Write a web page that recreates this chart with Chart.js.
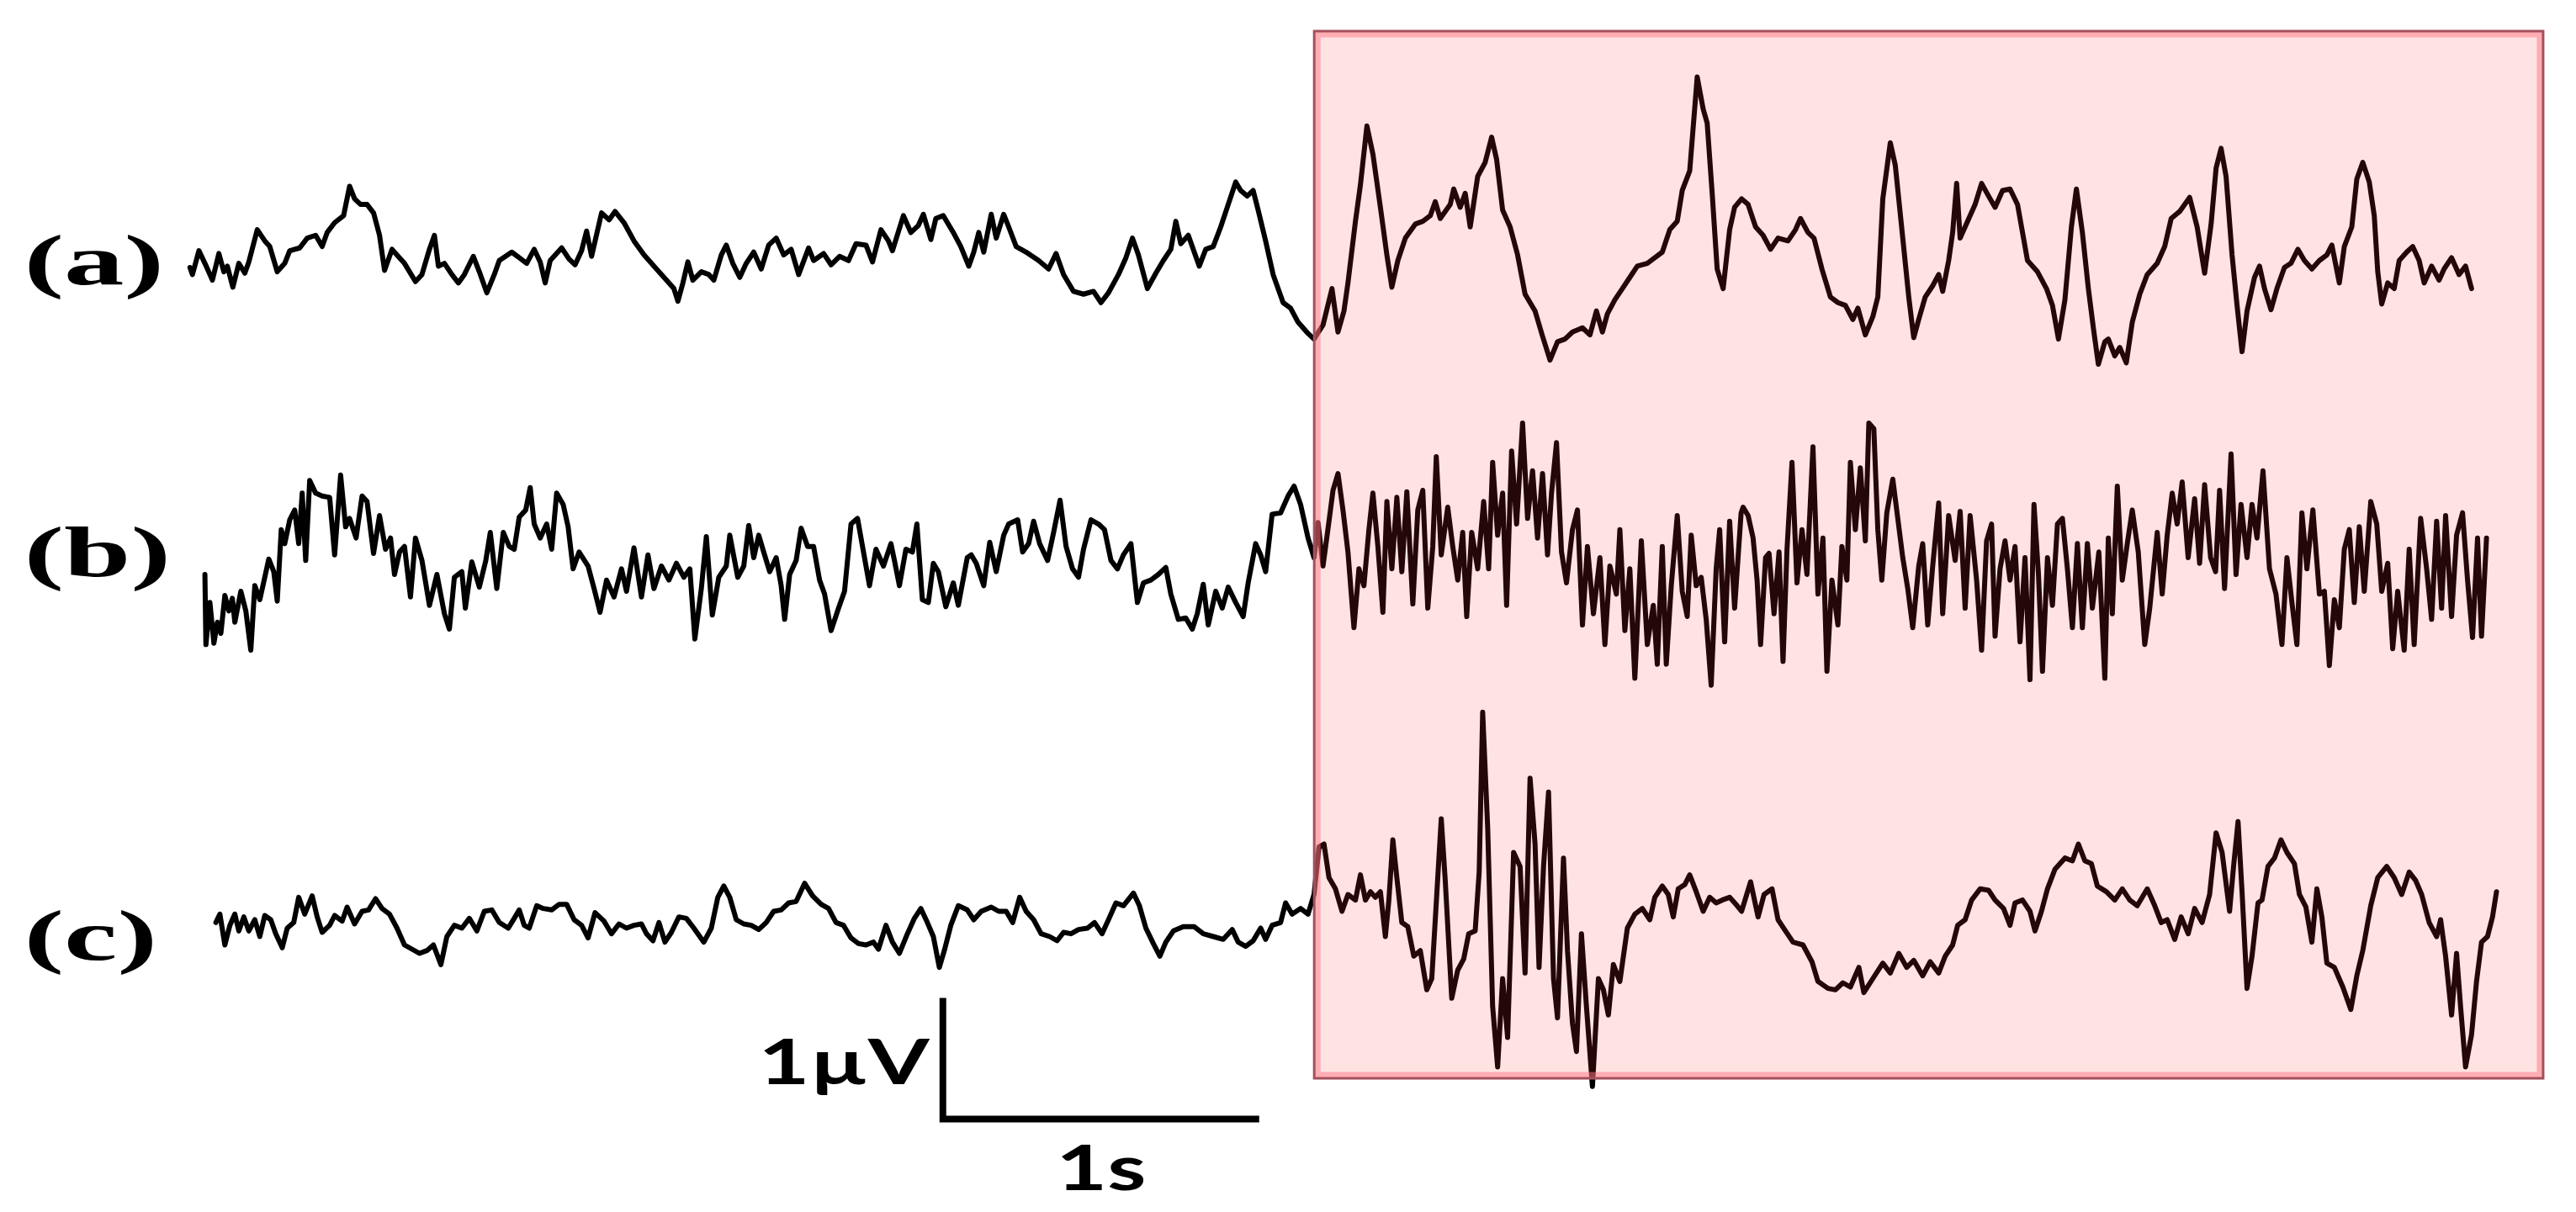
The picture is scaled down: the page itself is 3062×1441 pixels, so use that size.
<!DOCTYPE html>
<html>
<head>
<meta charset="utf-8">
<script src="https://cdn.jsdelivr.net/npm/chart.js@4.4.1/dist/chart.umd.min.js"></script>
<style>
  html, body { margin: 0; padding: 0; background: #ffffff; }
  #wrap { width: 3062px; height: 1441px; position: relative; }
</style>
</head>
<body>
<div id="wrap"><canvas id="eeg"></canvas></div>
<script>
// recording settings
const FS = 634;    // samples per second
const GAIN = 432;  // counts per µV

const traceNames = ["(a)", "(b)", "(c)"];

// [sample index, amplitude in counts] turning points of each trace
const traceA = [
  [3,35],[8,10],[21,95],[33,50],[48,-10],[61,85],[71,20],[78,40],[89,-35],[101,50],[113,15],[121,55],
  [138,170],[153,130],[163,110],[178,20],[193,50],[203,95],[223,105],[238,140],[255,150],[268,110],
  [278,160],[293,195],[311,220],[323,325],[333,280],[345,260],[358,260],[371,230],[383,150],[393,25],
  [408,100],[423,70],[433,50],[455,-15],[468,10],[483,100],[493,150],[501,40],[513,50],[528,10],
  [541,-20],[553,10],[571,75],[583,20],[598,-55],[613,10],[623,60],[648,90],[663,70],[678,50],
  [693,100],[705,55],[715,-20],[725,60],[748,105],[763,65],[775,45],[788,95],[798,165],[808,75],
  [828,230],[843,205],[855,235],[873,195],[893,130],[913,80],[938,30],[958,-10],[973,-40],[981,-85],
  [991,-20],[1001,55],[1011,-10],[1028,20],[1043,10],[1053,-10],[1068,80],[1078,115],[1091,50],
  [1105,0],[1118,50],[1133,90],[1148,30],[1163,115],[1178,140],[1193,80],[1208,100],[1223,10],
  [1243,105],[1253,60],[1273,85],[1288,45],[1305,75],[1323,60],[1338,120],[1358,115],[1371,55],
  [1388,170],[1403,130],[1411,95],[1433,220],[1448,160],[1463,185],[1473,225],[1488,135],[1498,210],
  [1513,220],[1533,160],[1548,110],[1564,40],[1574,90],[1584,160],[1594,90],[1609,225],[1619,140],
  [1634,225],[1644,180],[1659,110],[1679,90],[1704,60],[1724,30],[1739,85],[1754,10],[1774,-50],
  [1794,-60],[1814,-50],[1829,-90],[1844,-55],[1864,10],[1879,70],[1892,140],[1904,80],[1922,-40],
  [1939,15],[1954,60],[1969,100],[1979,200],[1989,120],[2004,150],[2014,100],[2026,40],[2039,100],
  [2054,110],[2069,180],[2084,260],[2099,340],[2109,310],[2122,290],[2134,310],[2144,240],[2159,130],
  [2174,10],[2194,-90],[2209,-110],[2224,-160],[2244,-200],[2256,-220],[2274,-170],[2292,-40],
  [2304,-195],[2316,-120],[2324,-20],[2339,200],[2349,330],[2362,540],[2374,440],[2389,250],[2402,80],
  [2412,-35],[2424,60],[2439,140],[2459,190],[2474,200],[2489,220],[2499,270],[2509,210],[2529,260],
  [2536,315],[2549,250],[2559,300],[2569,180],[2584,360],[2599,410],[2612,500],[2622,420],[2634,240],
  [2649,180],[2664,80],[2679,-60],[2699,-120],[2714,-210],[2729,-295],[2744,-230],[2759,-220],
  [2774,-195],[2794,-180],[2809,-205],[2822,-120],[2834,-195],[2844,-130],[2859,-80],[2874,-40],
  [2889,0],[2904,40],[2924,50],[2939,70],[2954,90],[2969,170],[2984,200],[2994,310],[3009,380],
  [3024,715],[3036,600],[3044,550],[3054,300],[3064,30],[3076,-40],[3089,170],[3099,250],[3113,280],
  [3126,260],[3141,180],[3156,150],[3171,100],[3186,140],[3206,130],[3221,170],[3231,210],[3246,160],
  [3258,140],[3274,30],[3291,-70],[3306,-90],[3321,-100],[3336,-150],[3346,-110],[3361,-205],
  [3376,-140],[3386,-70],[3396,280],[3411,480],[3421,400],[3436,140],[3448,-70],[3458,-215],
  [3468,-150],[3481,-70],[3496,-30],[3508,10],[3516,-50],[3528,60],[3536,160],[3544,335],[3551,140],
  [3566,200],[3581,260],[3594,335],[3608,290],[3621,250],[3636,310],[3651,315],[3666,260],[3686,60],
  [3706,20],[3724,-40],[3736,-100],[3748,-220],[3761,-80],[3774,180],[3784,315],[3796,160],[3808,-40],
  [3818,-180],[3828,-310],[3841,-230],[3848,-220],[3861,-280],[3871,-250],[3884,-305],[3896,-160],
  [3911,-60],[3926,10],[3946,50],[3961,110],[3974,210],[3991,235],[4011,285],[4026,180],[4041,15],
  [4054,190],[4064,390],[4074,460],[4084,360],[4096,80],[4106,-100],[4116,-265],[4126,-120],[4141,0],
  [4151,40],[4161,-40],[4174,-115],[4186,-40],[4201,35],[4214,50],[4228,100],[4241,60],[4256,30],
  [4271,60],[4286,80],[4296,115],[4311,-20],[4321,110],[4336,180],[4346,350],[4358,410],[4371,340],
  [4381,220],[4388,20],[4396,-95],[4408,-20],[4421,-40],[4431,60],[4446,90],[4458,110],[4471,60],
  [4481,-20],[4496,40],[4511,-10],[4521,30],[4536,70],[4551,10],[4564,40],[4576,-40]
];

const traceB = [
  [33,-10],[35,-260],[43,-110],[51,-255],[58,-180],[65,-220],[73,-85],[81,-140],[88,-95],[93,-180],
  [105,-70],[115,-140],[125,-280],[133,-50],[143,-100],[153,-20],[161,45],[171,0],[178,-105],[186,150],
  [193,100],[203,185],[213,220],[221,100],[228,280],[235,40],[243,325],[255,280],[268,270],[283,265],
  [293,60],[305,345],[315,160],[323,190],[336,120],[348,270],[358,250],[371,65],[383,200],[395,80],
  [405,120],[413,-10],[423,70],[433,90],[445,-90],[455,120],[468,40],[483,-120],[498,-10],[513,-150],
  [523,-205],[533,-20],[548,0],[555,-130],[568,35],[583,-55],[596,40],[605,140],[618,-60],[631,140],
  [643,90],[653,80],[663,195],[676,220],[685,300],[693,170],[705,120],[718,170],[728,80],[738,280],
  [751,240],[761,160],[771,10],[783,70],[801,20],[813,-60],[825,-145],[838,-30],[853,-90],[868,10],
  [878,-70],[893,85],[908,-90],[921,60],[933,-60],[948,20],[963,-30],[978,30],[993,-20],[1005,10],
  [1015,-240],[1028,-60],[1038,125],[1050,-155],[1063,-20],[1078,20],[1085,130],[1101,-20],[1113,20],
  [1123,165],[1133,50],[1143,130],[1153,70],[1165,0],[1178,50],[1188,-50],[1195,-170],[1205,-10],
  [1218,40],[1228,155],[1241,90],[1253,90],[1265,-30],[1275,-80],[1288,-210],[1303,-130],[1315,-70],
  [1328,170],[1341,190],[1353,70],[1365,-50],[1378,80],[1393,20],[1408,100],[1415,40],[1425,-50],
  [1438,80],[1451,70],[1460,170],[1471,-100],[1483,-110],[1493,30],[1503,0],[1518,-125],[1533,-40],
  [1543,-120],[1561,50],[1569,60],[1579,30],[1594,-50],[1606,105],[1619,0],[1634,130],[1644,170],
  [1662,185],[1672,70],[1684,100],[1694,180],[1706,100],[1722,40],[1734,140],[1747,255],[1759,90],
  [1772,10],[1784,-20],[1794,80],[1809,185],[1824,170],[1836,150],[1849,40],[1862,10],[1874,60],
  [1889,100],[1902,-110],[1914,-40],[1929,-30],[1944,-10],[1959,15],[1969,-80],[1984,-170],[1999,-165],
  [2012,-205],[2022,-150],[2034,-45],[2044,-190],[2059,-70],[2072,-130],[2084,-55],[2099,-110],
  [2114,-160],[2124,-40],[2139,100],[2149,60],[2159,0],[2172,205],[2189,210],[2204,270],[2216,305],
  [2229,240],[2244,120],[2256,50],[2264,175],[2274,20],[2286,180],[2294,290],[2304,350],[2314,220],
  [2324,70],[2336,-200],[2346,10],[2356,-50],[2366,150],[2374,280],[2384,90],[2394,-145],[2402,250],
  [2412,10],[2422,265],[2432,0],[2442,285],[2454,-115],[2464,220],[2474,290],[2484,-130],[2494,90],
  [2501,410],[2511,60],[2524,230],[2534,90],[2544,-30],[2554,140],[2562,-160],[2572,140],[2584,10],
  [2596,250],[2606,10],[2614,390],[2624,130],[2634,280],[2642,-120],[2652,430],[2662,170],[2674,530],
  [2684,190],[2694,360],[2704,120],[2714,350],[2724,60],[2732,280],[2742,460],[2752,70],[2762,-40],
  [2774,150],[2784,220],[2794,-190],[2804,90],[2816,-150],[2829,50],[2839,-260],[2849,20],[2862,-80],
  [2869,150],[2879,-210],[2889,10],[2899,-380],[2912,110],[2924,-260],[2936,-120],[2944,-330],
  [2954,90],[2962,-330],[2972,-50],[2984,200],[2994,-70],[3004,-160],[3012,130],[3022,-50],[3032,-20],
  [3042,-170],[3052,-405],[3062,10],[3069,150],[3079,-250],[3089,180],[3099,-130],[3112,210],
  [3116,230],[3126,200],[3136,120],[3144,-30],[3151,-260],[3161,50],[3168,65],[3178,-150],[3188,70],
  [3196,-320],[3204,80],[3214,390],[3224,-40],[3234,150],[3244,-10],[3256,445],[3266,-80],[3276,120],
  [3284,-355],[3294,-30],[3306,-190],[3314,90],[3324,-30],[3331,390],[3341,150],[3351,370],[3361,110],
  [3368,530],[3378,510],[3386,150],[3394,-30],[3404,210],[3416,330],[3426,190],[3436,50],[3446,-60],
  [3456,-200],[3468,20],[3476,100],[3486,-190],[3496,20],[3508,245],[3516,-150],[3528,200],[3541,40],
  [3551,215],[3561,-130],[3571,200],[3584,-30],[3594,-280],[3604,110],[3614,170],[3621,-230],[3631,10],
  [3641,110],[3651,-30],[3661,90],[3671,-250],[3681,50],[3691,-385],[3699,240],[3708,-10],[3716,-355],
  [3726,50],[3736,-120],[3746,170],[3756,190],[3766,10],[3776,-200],[3786,100],[3796,-200],[3806,100],
  [3816,-130],[3829,70],[3841,-380],[3848,120],[3856,-150],[3866,305],[3876,-30],[3886,100],[3896,220],
  [3908,70],[3921,-260],[3931,-130],[3946,140],[3956,-80],[3966,130],[3976,280],[3986,170],[3996,320],
  [4008,50],[4021,260],[4031,30],[4041,310],[4053,50],[4063,0],[4071,290],[4081,-60],[4094,420],
  [4104,-10],[4114,240],[4126,50],[4136,240],[4146,120],[4158,360],[4171,10],[4184,-80],[4196,-260],
  [4206,50],[4216,-110],[4226,-260],[4236,210],[4246,10],[4258,220],[4271,-80],[4281,-70],[4291,-335],
  [4301,-100],[4311,-200],[4321,80],[4331,150],[4341,-110],[4351,160],[4361,-70],[4374,250],[4386,170],
  [4396,-70],[4408,30],[4418,-275],[4428,-70],[4441,-280],[4451,80],[4461,-260],[4474,190],[4486,10],
  [4496,-170],[4506,180],[4516,-130],[4524,200],[4536,-160],[4546,130],[4558,210],[4568,-30],
  [4578,-235],[4588,120],[4596,-230],[4606,120]
];

const traceC = [
  [55,10],[63,40],[73,-70],[83,0],[93,40],[101,-20],[111,30],[121,-20],[133,20],[143,-40],[153,35],
  [165,20],[175,-30],[188,-80],[198,-10],[211,10],[221,100],[233,40],[248,105],[258,30],[268,-25],
  [283,0],[293,35],[308,15],[318,65],[333,5],[348,50],[361,55],[375,95],[388,60],[403,40],[418,-10],
  [433,-70],[448,-85],[463,-100],[478,-90],[491,-70],[506,-140],[518,-40],[533,0],[548,-10],[563,25],
  [578,-20],[593,50],[608,55],[623,10],[641,-10],[653,25],[663,55],[673,0],[683,-10],[698,70],[711,60],
  [728,55],[743,75],[758,75],[773,20],[788,0],[801,-45],[815,45],[833,15],[848,-30],[863,5],[878,-10],
  [893,0],[908,5],[918,-30],[931,-55],[943,10],[955,-60],[968,-25],[983,30],[998,25],[1013,-10],
  [1033,-60],[1048,-10],[1061,100],[1073,140],[1085,100],[1098,20],[1113,5],[1128,0],[1143,-15],
  [1158,10],[1173,50],[1188,55],[1203,80],[1218,85],[1235,150],[1251,105],[1268,75],[1283,60],[1298,10],
  [1313,0],[1328,-45],[1343,-65],[1358,-70],[1373,-60],[1383,-85],[1398,0],[1411,-60],[1425,-100],
  [1441,-30],[1455,25],[1468,60],[1481,10],[1493,-40],[1505,-150],[1515,-90],[1528,0],[1543,70],
  [1561,55],[1574,20],[1589,50],[1609,65],[1624,50],[1639,50],[1652,10],[1666,100],[1679,50],[1694,20],
  [1709,-30],[1726,-40],[1741,-55],[1754,-25],[1769,-30],[1784,-15],[1802,-10],[1816,10],[1831,-30],
  [1844,20],[1859,80],[1874,70],[1894,115],[1906,70],[1919,-10],[1934,-65],[1947,-110],[1959,-60],
  [1974,-20],[1994,-5],[2016,-5],[2034,-30],[2054,-40],[2074,-50],[2092,-15],[2104,-60],[2119,-75],
  [2134,-55],[2149,-10],[2159,-50],[2172,0],[2189,10],[2199,80],[2212,40],[2229,60],[2244,40],
  [2256,110],[2266,280],[2276,290],[2286,170],[2299,130],[2312,50],[2324,110],[2339,90],[2349,180],
  [2359,90],[2369,120],[2379,100],[2389,120],[2399,-40],[2406,90],[2414,305],[2422,170],[2432,10],
  [2444,-5],[2456,-110],[2469,-90],[2482,-230],[2492,-190],[2502,110],[2511,380],[2519,160],[2532,-260],
  [2544,-160],[2556,-120],[2566,-30],[2579,-20],[2587,190],[2594,760],[2604,350],[2614,-290],
  [2624,-505],[2634,-190],[2644,-400],[2656,260],[2669,210],[2679,-170],[2689,525],[2699,290],
  [2707,-150],[2716,210],[2726,475],[2736,-190],[2744,-330],[2756,240],[2764,-90],[2774,-350],
  [2782,-450],[2792,-30],[2802,-290],[2814,-575],[2826,-190],[2836,-230],[2846,-320],[2856,-140],
  [2869,-200],[2884,-10],[2899,40],[2914,60],[2929,20],[2939,100],[2954,140],[2966,110],[2976,30],
  [2986,130],[2999,145],[3009,180],[3022,120],[3036,50],[3049,100],[3062,80],[3074,90],[3089,100],
  [3104,70],[3113,50],[3131,155],[3146,30],[3158,110],[3174,130],[3186,20],[3201,-20],[3216,-60],
  [3236,-70],[3254,-130],[3266,-200],[3286,-225],[3301,-230],[3316,-205],[3331,-220],[3348,-150],
  [3358,-240],[3376,-190],[3396,-135],[3411,-170],[3428,-100],[3444,-150],[3458,-125],[3476,-180],
  [3491,-130],[3508,-170],[3521,-110],[3536,-70],[3546,0],[3561,20],[3574,90],[3591,130],[3608,125],
  [3621,90],[3638,60],[3651,0],[3661,80],[3676,90],[3691,50],[3701,-20],[3714,50],[3726,130],
  [3741,200],[3761,240],[3776,230],[3788,290],[3801,230],[3814,220],[3826,140],[3844,120],[3861,90],
  [3876,130],[3891,90],[3906,70],[3926,130],[3941,70],[3954,10],[3966,20],[3981,-50],[3994,30],
  [4008,-30],[4021,60],[4036,10],[4051,110],[4064,330],[4076,260],[4091,50],[4099,210],[4108,370],
  [4116,120],[4126,-225],[4136,-110],[4148,80],[4156,90],[4168,210],[4181,240],[4194,305],[4206,260],
  [4221,220],[4231,110],[4244,65],[4256,-60],[4266,130],[4276,30],[4286,-135],[4301,-150],[4318,-220],
  [4334,-300],[4346,-180],[4358,-90],[4374,70],[4388,170],[4406,210],[4421,170],[4436,110],[4451,190],
  [4464,160],[4476,110],[4491,10],[4506,-40],[4514,20],[4524,-110],[4536,-320],[4546,-100],
  [4554,-290],[4564,-505],[4576,-390],[4586,-200],[4596,-60],[4608,-40],[4618,30],[4626,120]
];

// layout (seconds / µV on the chart axes)
const baselines = [-2.29, -4.72, -7.64];
const labelLevels = [-2.15, -4.56, -7.73];
const labelTime = -0.52;
const highlight = { start: 3.559, end: 7.444, top: -0.257, bottom: -8.903 };
const scaleBar = { t: 2.385, v: -9.24, sec: 1, uv: 1 };

const traces = [traceA, traceB, traceC];

const datasets = traces.map((tr, i) => ({
  label: traceNames[i],
  data: tr.map(([n, c]) => ({ x: n / FS, y: baselines[i] + c / GAIN })),
  borderColor: "#000000",
  borderWidth: 6,
  borderJoinStyle: "round",
  borderCapStyle: "round",
  pointRadius: 0,
  tension: 0,
  clip: false
}));

// calibration bar: 1 µV up, 1 s across
datasets.push({
  label: "scale",
  data: [
    { x: scaleBar.t, y: scaleBar.v + scaleBar.uv },
    { x: scaleBar.t, y: scaleBar.v },
    { x: scaleBar.t + scaleBar.sec, y: scaleBar.v }
  ],
  borderColor: "#000000",
  borderWidth: 8,
  borderJoinStyle: "miter",
  borderCapStyle: "butt",
  pointRadius: 0,
  tension: 0,
  clip: false
});

// draw stretched text like the original figure
function wideText(ctx, txt, x, y, font, sx, align) {
  ctx.save();
  ctx.font = font;
  ctx.translate(x, y);
  ctx.scale(sx, 1);
  ctx.textAlign = align;
  ctx.textBaseline = "alphabetic";
  ctx.fillStyle = "#000000";
  ctx.fillText(txt, 0, 0);
  ctx.restore();
}

const overlay = {
  id: "overlay",
  afterDatasetsDraw(chart) {
    const { ctx, scales: { x, y } } = chart;
    const x0 = x.getPixelForValue(highlight.start);
    const x1 = x.getPixelForValue(highlight.end);
    const y0 = y.getPixelForValue(highlight.top);
    const y1 = y.getPixelForValue(highlight.bottom);
    ctx.save();
    ctx.fillStyle = "rgba(255, 60, 60, 0.14)";
    ctx.fillRect(x0, y0, x1 - x0, y1 - y0);
    ctx.strokeStyle = "rgba(255, 120, 130, 0.5)";
    ctx.lineWidth = 7;
    ctx.strokeRect(x0 + 4, y0 + 4, x1 - x0 - 8, y1 - y0 - 8);
    ctx.strokeStyle = "#a4505c";
    ctx.lineWidth = 3;
    ctx.strokeRect(x0, y0, x1 - x0, y1 - y0);
    ctx.restore();
  },
  afterDraw(chart) {
    const { ctx, scales: { x, y } } = chart;
    const lx = x.getPixelForValue(labelTime);
    traceNames.forEach((name, i) => {
      wideText(ctx, name, lx, y.getPixelForValue(labelLevels[i]) + 28,
        "bold 84px 'Liberation Serif'", 1.7, "left");
    });
    const bx = x.getPixelForValue(scaleBar.t);
    const by = y.getPixelForValue(scaleBar.v);
    const bx1 = x.getPixelForValue(scaleBar.t + scaleBar.sec);
    wideText(ctx, "1µV", bx - 16, by - 42, "bold 74px Lato", 1.42, "right");
    wideText(ctx, "1s", (bx + bx1) / 2, by + 84, "bold 74px Lato", 1.42, "center");
  }
};

new Chart(document.getElementById("eeg"), {
  type: "line",
  data: { datasets: datasets },
  plugins: [overlay],
  options: {
    responsive: true,
    maintainAspectRatio: false,
    animation: false,
    events: [],
    layout: { padding: 0 },
    plugins: { legend: { display: false }, tooltip: { enabled: false } },
    scales: {
      x: { type: "linear", display: false, min: -224 / 376, max: (3062 - 224) / 376 },
      y: { type: "linear", display: false, min: -1441 / 144, max: 0 }
    }
  }
});
</script>
</body>
</html>
